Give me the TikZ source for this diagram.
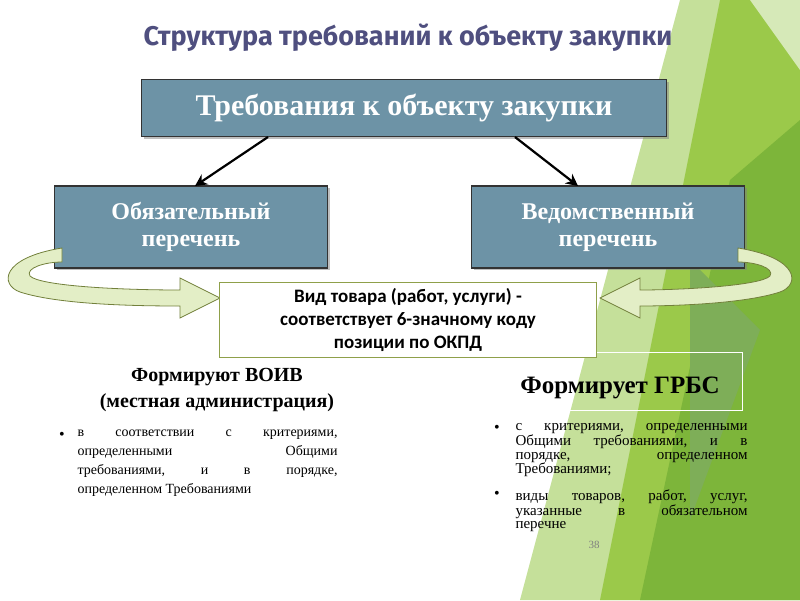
\documentclass[tikz,border=0pt]{standalone}
\usepackage{fontspec}
\setmainfont{Liberation Serif}
\newfontfamily\calib{Carlito}
\newfontfamily\titlefont{Fira Sans}
\usetikzlibrary{positioning,arrows.meta,shadows}
\definecolor{boxblue}{HTML}{6D93A6}
\definecolor{titlecol}{HTML}{4F4F7F}
\definecolor{olive}{HTML}{8FA04A}
\definecolor{lgreen}{HTML}{E3EEC6}
\definecolor{g1}{HTML}{9BC94A}
\definecolor{g2}{HTML}{7DB53A}
\definecolor{g3}{HTML}{C5E09A}
\definecolor{g4}{HTML}{5E9A2E}
\newcommand\lline[2]{\hbox to #1{#2}}
\tikzset{
  bluebox/.style={draw=black!80,line width=1.2pt,fill=boxblue,text=white,
    font=\bfseries\fontsize{24}{27}\selectfont,align=center,drop shadow},
  codebox/.style={draw=olive,line width=1.4pt,fill=white,
    font=\calib\bfseries\fontsize{19}{23}\selectfont,align=center},
  loop/.style={draw=olive!80!black,fill=lgreen,line width=0.8pt},
  listtext/.style={align=left,font=\fontsize{14}{19}\selectfont,anchor=north west},
  dot/.style={font=\fontsize{16}{16}\selectfont}
}
\begin{document}
\begin{tikzpicture}[x=1pt,y=-1pt]
\useasboundingbox (0,0) rectangle (800,600);
% green decoration
\fill[g3] (680,0) -- (800,0) -- (800,600) -- (520,600) -- cycle;
\fill[g1] (720,0) -- (800,0) -- (800,600) -- (600,600) -- cycle;
\fill[g2] (730,180) -- (800,120) -- (800,600) -- (640,600) -- cycle;
\fill[g4!80] (690,260) -- (760,330) -- (690,520) -- cycle;
\fill[g3!70] (750,0) -- (800,0) -- (800,70) -- cycle;
\draw[white,line width=0.8pt] (505,352) rectangle (742,410);
% title
\node[font=\titlefont\bfseries\fontsize{27}{30}\selectfont,text=titlecol] (title) at (408,38) {Структура требований к объекту закупки};
% boxes
\node[bluebox,minimum width=525,minimum height=57,font=\bfseries\fontsize{30}{32}\selectfont] (req) at (404,108) {Требования к объекту закупки};
\node[bluebox,minimum width=273,minimum height=82] (must) at (191,227) {Обязательный\\перечень};
\node[bluebox,minimum width=273,minimum height=82] (dept) at (608,227) {Ведомственный\\перечень};
% curved arrows
\fill[loop] (62,248) .. controls (0,258) and (0,285) .. (20,292) .. controls (60,305) and (140,306) .. (180,306)
  -- (180,318) -- (220,298) -- (180,278) -- (180,290) .. controls (120,290) and (40,286) .. (30,276)
  .. controls (25,268) and (45,262) .. (62,262) -- cycle;
\fill[loop] (738,248) .. controls (800,258) and (800,285) .. (780,292) .. controls (740,305) and (660,306) .. (640,306)
  -- (640,318) -- (600,298) -- (640,278) -- (640,290) .. controls (680,290) and (760,286) .. (770,276)
  .. controls (775,268) and (755,262) .. (738,262) -- cycle;
\node[codebox,minimum width=377,minimum height=75] (code) at (408,320) {Вид товара (работ, услуги) -\\соответствует 6-значному коду\\позиции по ОКПД};
\draw[-{Stealth[length=12pt,width=12pt]},line width=2.2pt] (268,137) -- (195,186);
\draw[-{Stealth[length=12pt,width=12pt]},line width=2.2pt] (515,137) -- (578,186);
% left column
\node[font=\bfseries\fontsize{20}{25}\selectfont,align=center] (voiv) at (217,390) {Формируют ВОИВ\\(местная администрация)};
\node[listtext] (leftlist) at (74,426) {\lline{260pt}{в\hfill соответствии\hfill с\hfill критериями,}\\
  \lline{260pt}{определенными\hfill Общими}\\
  \lline{260pt}{требованиями,\hfill и\hfill в\hfill порядке,}\\
  определенном Требованиями};
\node[dot] (b1) at (62,436) {•};
% right column
\node[font=\bfseries\fontsize{25}{28}\selectfont] (grbs) at (620,388) {Формирует ГРБС};
\node[listtext,font=\fontsize{15}{13.5}\selectfont] (rl1) at (512,420) {\lline{232pt}{с\hfill критериями,\hfill определенными}\\
  \lline{232pt}{Общими\hfill требованиями,\hfill и\hfill в}\\
  \lline{232pt}{порядке,\hfill определенном}\\
  Требованиями;};
\node[listtext,font=\fontsize{15}{13.5}\selectfont] (rl2) at (512,486) {\lline{232pt}{виды\hfill товаров,\hfill работ,\hfill услуг,}\\
  \lline{232pt}{указанные\hfill в\hfill обязательном}\\
  перечне};
\node[dot] (b2) at (497,429) {•};
\node[dot] (b3) at (497,495) {•};
\node[font=\fontsize{11}{13}\selectfont,text=gray] (page) at (594,545) {38};
\end{tikzpicture}
\end{document}
